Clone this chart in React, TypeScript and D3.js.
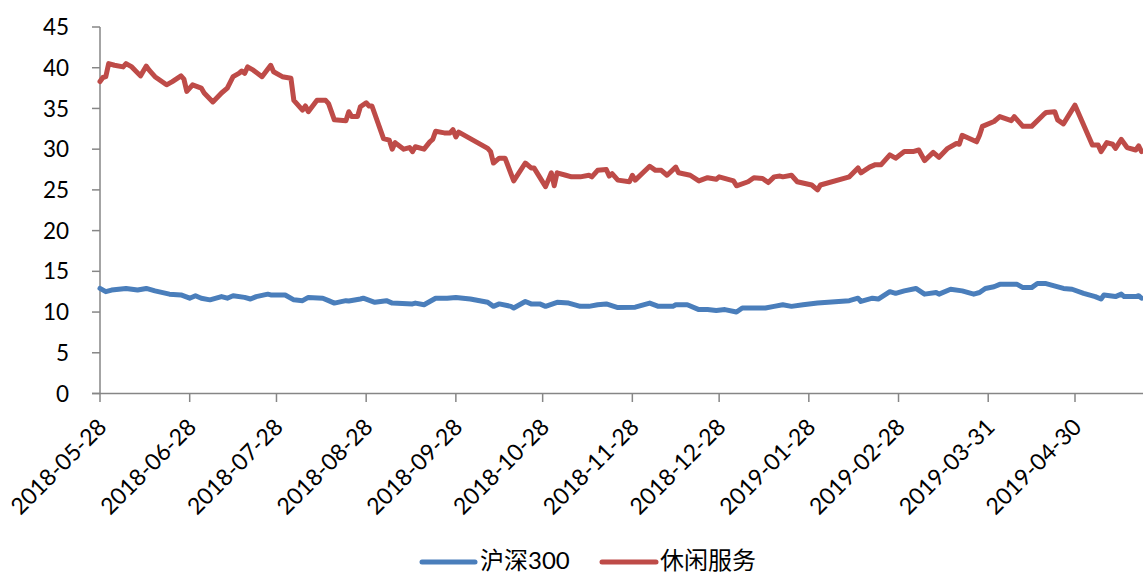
import React from "react";
import * as d3 from "d3";

// ---------- data ----------
const xTickLabels = [
  "2018-05-28", "2018-06-28", "2018-07-28", "2018-08-28", "2018-09-28", "2018-10-28",
  "2018-11-28", "2018-12-28", "2019-01-28", "2019-02-28", "2019-03-31", "2019-04-30",
];
const yTicks = [0, 5, 10, 15, 20, 25, 30, 35, 40, 45];
const seriesNames = ["沪深300", "休闲服务"];

const hs300Dates = [
  "2018-05-28", "2018-05-30", "2018-06-01", "2018-06-06", "2018-06-10", "2018-06-13", "2018-06-16",
  "2018-06-21", "2018-06-25", "2018-06-28", "2018-06-30", "2018-07-02", "2018-07-05", "2018-07-09",
  "2018-07-11", "2018-07-13", "2018-07-17", "2018-07-19", "2018-07-21", "2018-07-25", "2018-07-26",
  "2018-07-31", "2018-08-03", "2018-08-06", "2018-08-08", "2018-08-13", "2018-08-15", "2018-08-17",
  "2018-08-21", "2018-08-22", "2018-08-26", "2018-08-27", "2018-08-31", "2018-09-04", "2018-09-06",
  "2018-09-13", "2018-09-14", "2018-09-17", "2018-09-19", "2018-09-21", "2018-09-25", "2018-09-28",
  "2018-10-03", "2018-10-09", "2018-10-11", "2018-10-13", "2018-10-17", "2018-10-18", "2018-10-22",
  "2018-10-24", "2018-10-27", "2018-10-29", "2018-11-02", "2018-11-06", "2018-11-10", "2018-11-13",
  "2018-11-16", "2018-11-19", "2018-11-23", "2018-11-29", "2018-12-04", "2018-12-07", "2018-12-12",
  "2018-12-13", "2018-12-17", "2018-12-21", "2018-12-24", "2018-12-27", "2018-12-30", "2019-01-03",
  "2019-01-05", "2019-01-09", "2019-01-13", "2019-01-16", "2019-01-19", "2019-01-22", "2019-01-26",
  "2019-01-31", "2019-02-11", "2019-02-14", "2019-02-15", "2019-02-19", "2019-02-21", "2019-02-25",
  "2019-02-27", "2019-03-02", "2019-03-06", "2019-03-09", "2019-03-13", "2019-03-14", "2019-03-18",
  "2019-03-22", "2019-03-26", "2019-03-28", "2019-03-30", "2019-04-02", "2019-04-04", "2019-04-10",
  "2019-04-12", "2019-04-15", "2019-04-17", "2019-04-20", "2019-04-26", "2019-04-29", "2019-05-03",
  "2019-05-07", "2019-05-09", "2019-05-10", "2019-05-14", "2019-05-16", "2019-05-17", "2019-05-21",
  "2019-05-22", "2019-05-23",
];
const hs300Values = [
  12.9, 12.5, 12.7, 12.9, 12.7, 12.9, 12.6,
  12.2, 12.1, 11.7, 12.0, 11.7, 11.5, 11.9,
  11.7, 12.0, 11.8, 11.6, 11.9, 12.2, 12.1,
  12.1, 11.5, 11.4, 11.8, 11.7, 11.4, 11.1,
  11.4, 11.35, 11.6, 11.7, 11.2, 11.4, 11.1,
  11.0, 11.1, 10.9, 11.3, 11.7, 11.7, 11.8,
  11.6, 11.2, 10.7, 11.0, 10.7, 10.5, 11.3,
  11.0, 11.0, 10.7, 11.2, 11.1, 10.7, 10.7,
  10.9, 11.0, 10.55, 10.6, 11.1, 10.7, 10.7,
  10.9, 10.9, 10.3, 10.3, 10.2, 10.3, 10.0,
  10.5, 10.5, 10.5, 10.7, 10.9, 10.7, 10.9,
  11.1, 11.4, 11.7, 11.3, 11.7, 11.6, 12.5,
  12.3, 12.6, 12.9, 12.2, 12.4, 12.2, 12.8,
  12.6, 12.2, 12.4, 12.9, 13.1, 13.4, 13.4,
  13.0, 13.0, 13.5, 13.5, 12.9, 12.8, 12.3,
  11.9, 11.6, 12.1, 11.9, 12.2, 11.9, 11.9,
  12.0, 11.7,
];

const leisureDates = [
  "2018-05-28", "2018-05-29", "2018-05-30", "2018-05-31", "2018-06-02", "2018-06-05", "2018-06-06",
  "2018-06-08", "2018-06-11", "2018-06-13", "2018-06-14", "2018-06-16", "2018-06-20", "2018-06-22",
  "2018-06-25", "2018-06-26", "2018-06-27", "2018-06-29", "2018-07-02", "2018-07-03", "2018-07-06",
  "2018-07-09", "2018-07-11", "2018-07-13", "2018-07-15", "2018-07-16", "2018-07-17", "2018-07-18",
  "2018-07-20", "2018-07-23", "2018-07-26", "2018-07-27", "2018-07-30", "2018-08-02", "2018-08-03",
  "2018-08-06", "2018-08-07", "2018-08-08", "2018-08-11", "2018-08-14", "2018-08-15", "2018-08-17",
  "2018-08-21", "2018-08-22", "2018-08-23", "2018-08-25", "2018-08-26", "2018-08-28", "2018-08-29",
  "2018-08-30", "2018-09-03", "2018-09-05", "2018-09-06", "2018-09-07", "2018-09-10", "2018-09-12",
  "2018-09-13", "2018-09-14", "2018-09-17", "2018-09-19", "2018-09-20", "2018-09-21", "2018-09-24",
  "2018-09-26", "2018-09-27", "2018-09-28", "2018-09-29", "2018-10-09", "2018-10-10", "2018-10-11",
  "2018-10-13", "2018-10-15", "2018-10-18", "2018-10-22", "2018-10-24", "2018-10-25", "2018-10-29",
  "2018-10-31", "2018-11-01", "2018-11-02", "2018-11-05", "2018-11-07", "2018-11-10", "2018-11-13",
  "2018-11-14", "2018-11-16", "2018-11-19", "2018-11-20", "2018-11-21", "2018-11-23", "2018-11-27",
  "2018-11-28", "2018-11-29", "2018-12-04", "2018-12-06", "2018-12-08", "2018-12-10", "2018-12-13",
  "2018-12-14", "2018-12-18", "2018-12-21", "2018-12-24", "2018-12-27", "2018-12-28", "2019-01-02",
  "2019-01-03", "2019-01-07", "2019-01-09", "2019-01-12", "2019-01-14", "2019-01-16", "2019-01-18",
  "2019-01-19", "2019-01-22", "2019-01-24", "2019-01-29", "2019-01-31", "2019-02-01", "2019-02-11",
  "2019-02-14", "2019-02-15", "2019-02-18", "2019-02-20", "2019-02-22", "2019-02-25", "2019-02-27",
  "2019-03-02", "2019-03-05", "2019-03-07", "2019-03-09", "2019-03-12", "2019-03-14", "2019-03-17",
  "2019-03-20", "2019-03-21", "2019-03-22", "2019-03-27", "2019-03-28", "2019-03-29", "2019-04-02",
  "2019-04-04", "2019-04-08", "2019-04-09", "2019-04-12", "2019-04-15", "2019-04-19", "2019-04-20",
  "2019-04-23", "2019-04-24", "2019-04-26", "2019-04-30", "2019-05-06", "2019-05-08", "2019-05-09",
  "2019-05-11", "2019-05-13", "2019-05-14", "2019-05-16", "2019-05-18", "2019-05-21", "2019-05-22",
  "2019-05-23",
];
const leisureValues = [
  38.3, 38.8, 38.9, 40.5, 40.3, 40.1, 40.5,
  40.1, 39.0, 40.2, 39.7, 38.9, 37.9, 38.3,
  39.0, 38.6, 37.1, 37.9, 37.5, 36.9, 35.8,
  36.9, 37.5, 38.9, 39.3, 39.6, 39.3, 40.1,
  39.7, 38.9, 40.3, 39.5, 38.9, 38.7, 36.0,
  34.8, 35.3, 34.6, 36.0, 36.0, 35.6, 33.6,
  33.5, 34.6, 34.0, 34.0, 35.2, 35.7, 35.3,
  35.3, 31.3, 31.1, 30.0, 30.8, 30.0, 30.2,
  29.7, 30.3, 30.0, 30.9, 31.2, 32.2, 32.0,
  32.0, 32.4, 31.5, 32.1, 30.1, 29.7, 28.3,
  28.9, 28.9, 26.1, 28.3, 27.7, 27.7, 25.4,
  27.1, 25.5, 27.1, 26.8, 26.6, 26.6, 26.8,
  26.6, 27.4, 27.5, 26.7, 27.0, 26.2, 26.0,
  26.8, 26.2, 27.9, 27.4, 27.4, 26.8, 27.8,
  27.1, 26.8, 26.1, 26.5, 26.3, 26.6, 26.1,
  25.5, 26.0, 26.5, 26.4, 25.9, 26.6, 26.7,
  26.6, 26.8, 26.0, 25.6, 25.0, 25.6, 26.6,
  27.7, 27.1, 27.8, 28.1, 28.1, 29.3, 28.9,
  29.7, 29.7, 29.9, 28.6, 29.6, 29.0, 30.1,
  30.7, 30.6, 31.7, 30.9, 31.7, 32.8, 33.4,
  34.0, 33.5, 34.0, 32.8, 32.8, 34.2, 34.5,
  34.6, 33.6, 33.1, 35.4, 30.5, 30.5, 29.7,
  30.8, 30.6, 30.1, 31.2, 30.2, 29.9, 30.4,
  29.7,
];

const COLORS = ["#4A7EBB", "#BE4B48"];

// ---------- chart ----------
const W = 1143;
const H = 574;
const parse = d3.utcParse("%Y-%m-%d");

export default function App() {
  const x = d3
    .scaleUtc()
    .domain([parse("2018-05-28")!, parse("2019-04-30")!])
    .range([100, 1075]);
  const y = d3.scaleLinear().domain([0, 45]).range([393.5, 27]);

  const line = d3
    .line<[Date, number]>()
    .x((d) => x(d[0]))
    .y((d) => y(d[1]));

  const hsData: [Date, number][] = hs300Dates.map((d, i) => [parse(d)!, hs300Values[i]]);
  const leData: [Date, number][] = leisureDates.map((d, i) => [parse(d)!, leisureValues[i]]);

  const axisColor = "#868686";
  const font = "Lato, 'Noto Sans CJK SC', sans-serif";
  const x0 = x.range()[0];
  const y0 = y(0);

  return (
    <svg
      width={W}
      height={H}
      style={{ position: "absolute", left: 0, top: 0, background: "#fff" }}
      fontFamily={font}
    >
      {/* y axis */}
      <line x1={x0} x2={x0} y1={y(45)} y2={y0} stroke={axisColor} strokeWidth={1.5} />
      {yTicks.map((t) => (
        <g key={t}>
          <line x1={x0 - 8} x2={x0} y1={y(t)} y2={y(t)} stroke={axisColor} strokeWidth={1.5} />
          <text
            x={69}
            y={y(t)}
            dy="0.36em"
            textAnchor="end"
            fontSize={22.5}
            fill="#000"
          >
            {t}
          </text>
        </g>
      ))}
      {/* x axis */}
      <line x1={x0 - 8} x2={W} y1={y0} y2={y0} stroke={axisColor} strokeWidth={1.5} />
      {xTickLabels.map((lbl) => {
        const px = x(parse(lbl)!);
        return (
          <g key={lbl}>
            <line x1={px} x2={px} y1={y0} y2={y0 + 8.5} stroke={axisColor} strokeWidth={1.5} />
            <text
              transform={`translate(${px + 8},${y0 + 35}) rotate(-45)`}
              textAnchor="end"
              fontSize={23}
              fill="#000"
            >
              {lbl}
            </text>
          </g>
        );
      })}
      {/* series */}
      <path
        d={line(hsData) || ""}
        fill="none"
        stroke={COLORS[0]}
        strokeWidth={5}
        strokeLinejoin="round"
        strokeLinecap="round"
      />
      <path
        d={line(leData) || ""}
        fill="none"
        stroke={COLORS[1]}
        strokeWidth={5}
        strokeLinejoin="round"
        strokeLinecap="round"
      />
      {/* legend */}
      <line x1={422} x2={475} y1={562} y2={562} stroke={COLORS[0]} strokeWidth={5} strokeLinecap="round" />
      <text x={480} y={561} dy="0.34em" fontSize={24} fill="#000">
        {seriesNames[0]}
      </text>
      <line x1={602} x2={656} y1={562} y2={562} stroke={COLORS[1]} strokeWidth={5} strokeLinecap="round" />
      <text x={660} y={561} dy="0.34em" fontSize={24} fill="#000">
        {seriesNames[1]}
      </text>
    </svg>
  );
}
